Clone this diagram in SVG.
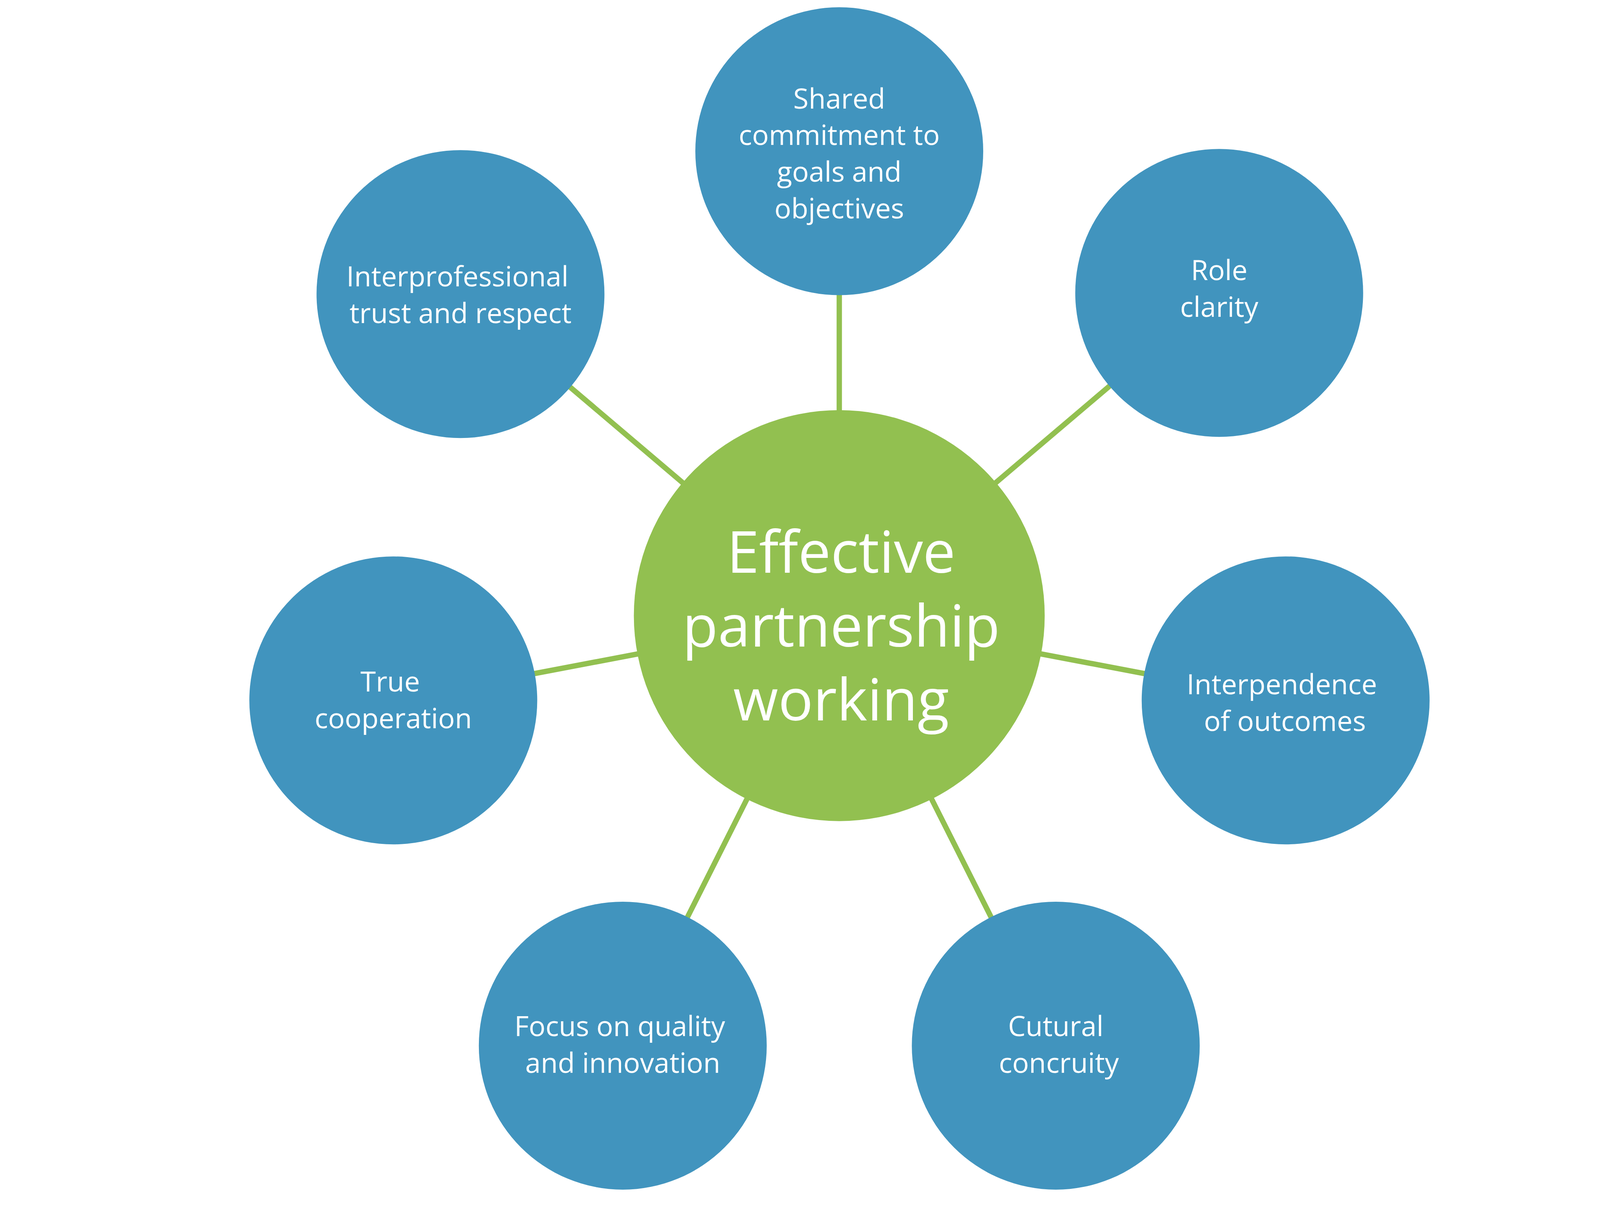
<svg xmlns="http://www.w3.org/2000/svg" width="4153" height="3115" viewBox="0 0 4153 3115">
<style>
.n{fill:#4194BE}
.c{fill:#92C050}
.t{font-family:"Open Sans","Liberation Sans",sans-serif;font-size:73px;fill:#fff;text-anchor:middle}
.ct{font-family:"Open Sans","Liberation Sans",sans-serif;font-size:152px;fill:#fff;text-anchor:middle}
.l{stroke:#92C050;stroke-width:14}
</style>
<rect width="4153" height="3115" fill="#fff"/>
<g transform="scale(0.9775)">
<g id="connectors">
<line class="l" x1="2198" y1="1612" x2="2198" y2="396"/>
<line class="l" x1="2198" y1="1612" x2="1206" y2="770"/>
<line class="l" x1="2198" y1="1612" x2="3193" y2="767"/>
<line class="l" x1="2198" y1="1612" x2="1030" y2="1834"/>
<line class="l" x1="2198" y1="1612" x2="3367" y2="1834"/>
<line class="l" x1="2198" y1="1612" x2="1631" y2="2738"/>
<line class="l" x1="2198" y1="1612" x2="2765" y2="2738"/>
</g>
<g id="center"><circle class="c" cx="2198" cy="1612" r="538"/>
<text class="ct" x="2203" y="1500">Effective</text>
<text class="ct" x="2203" y="1693">partnership</text>
<text class="ct" x="2203" y="1886">working</text></g>
<g id="top"><circle class="n" cx="2198" cy="396" r="377"/>
<text class="t" x="2198" y="284">Shared</text><text class="t" x="2198" y="380">commitment to</text><text class="t" x="2198" y="476">goals and</text><text class="t" x="2198" y="572">objectives</text></g>
<g id="tl"><circle class="n" cx="1206" cy="770" r="377"/>
<text class="t" x="1198" y="750">Interprofessional</text><text class="t" x="1206" y="846">trust and respect</text></g>
<g id="tr"><circle class="n" cx="3193" cy="767" r="377"/>
<text class="t" x="3193" y="734">Role</text><text class="t" x="3193" y="830">clarity</text></g>
<g id="l"><circle class="n" cx="1030" cy="1834" r="377"/>
<text class="t" x="1022" y="1811">True</text><text class="t" x="1030" y="1907">cooperation</text></g>
<g id="r"><circle class="n" cx="3367" cy="1834" r="377"/>
<text class="t" x="3357" y="1818">Interpendence</text><text class="t" x="3365" y="1914">of outcomes</text></g>
<g id="bl"><circle class="n" cx="1631" cy="2738" r="377"/>
<text class="t" x="1623" y="2713">Focus on quality</text><text class="t" x="1631" y="2809">and innovation</text></g>
<g id="br"><circle class="n" cx="2765" cy="2738" r="377"/>
<text class="t" x="2765" y="2713">Cutural</text><text class="t" x="2773" y="2809">concruity</text></g>
</g>
</svg>
